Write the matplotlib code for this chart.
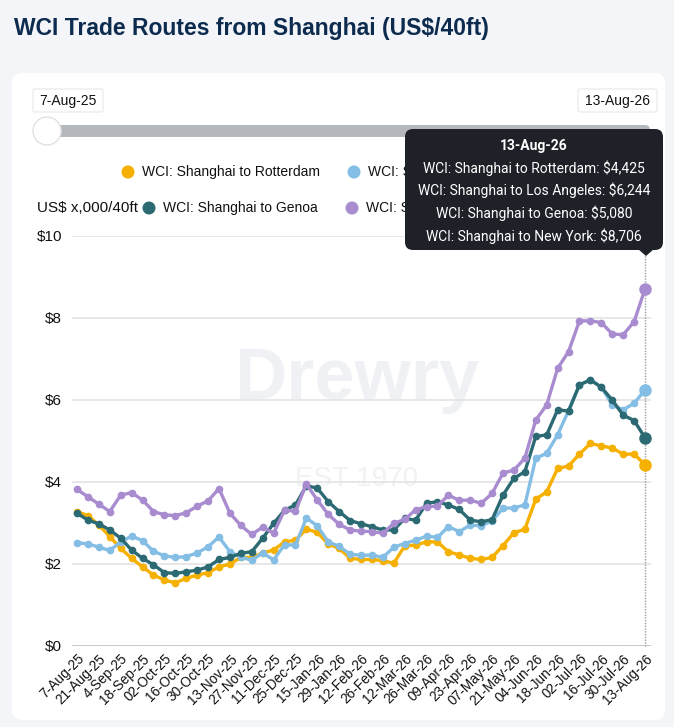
import matplotlib
matplotlib.use('Agg')
import matplotlib.pyplot as plt
from matplotlib.patches import FancyBboxPatch, Circle, Polygon
import numpy as np

dates = ["7-Aug-25", "14-Aug-25", "21-Aug-25", "28-Aug-25", "4-Sep-25", "11-Sep-25",
         "18-Sep-25", "25-Sep-25", "02-Oct-25", "09-Oct-25", "16-Oct-25", "23-Oct-25",
         "30-Oct-25", "06-Nov-25", "13-Nov-25", "20-Nov-25", "27-Nov-25", "04-Dec-25",
         "11-Dec-25", "18-Dec-25", "25-Dec-25", "08-Jan-26", "15-Jan-26", "22-Jan-26",
         "29-Jan-26", "05-Feb-26", "12-Feb-26", "19-Feb-26", "26-Feb-26", "05-Mar-26",
         "12-Mar-26", "19-Mar-26", "26-Mar-26", "02-Apr-26", "09-Apr-26", "16-Apr-26",
         "23-Apr-26", "30-Apr-26", "07-May-26", "14-May-26", "21-May-26", "28-May-26",
         "04-Jun-26", "11-Jun-26", "18-Jun-26", "25-Jun-26", "02-Jul-26", "09-Jul-26",
         "16-Jul-26", "23-Jul-26", "30-Jul-26", "06-Aug-26", "13-Aug-26"]

rotterdam = [3.28, 3.18, 2.95, 2.67, 2.38, 2.14, 1.93, 1.73, 1.61, 1.54, 1.65, 1.73,
             1.79, 1.93, 2.00, 2.16, 2.16, 2.27, 2.34, 2.54, 2.58, 2.85, 2.77, 2.49,
             2.38, 2.14, 2.11, 2.11, 2.08, 2.02, 2.44, 2.46, 2.54, 2.54, 2.30, 2.22,
             2.14, 2.11, 2.16, 2.45, 2.76, 2.85, 3.58, 3.76, 4.33, 4.39, 4.68, 4.94,
             4.88, 4.83, 4.68, 4.68, 4.425]
los_angeles = [2.52, 2.49, 2.41, 2.33, 2.54, 2.68, 2.57, 2.31, 2.20, 2.16, 2.18, 2.27,
               2.42, 2.66, 2.30, 2.17, 2.09, 2.27, 2.10, 2.47, 2.46, 3.12, 2.93, 2.54,
               2.43, 2.24, 2.21, 2.22, 2.16, 2.41, 2.50, 2.58, 2.68, 2.65, 2.91, 2.79,
               2.95, 2.93, 3.05, 3.36, 3.37, 3.44, 4.58, 4.70, 5.15, 5.74, 6.37, 6.49,
               6.32, 5.88, 5.76, 5.92, 6.244]
genoa = [3.24, 3.07, 2.98, 2.83, 2.63, 2.34, 2.14, 1.98, 1.79, 1.77, 1.81, 1.85,
         1.93, 2.11, 2.16, 2.26, 2.30, 2.63, 2.99, 3.31, 3.44, 3.91, 3.85, 3.52,
         3.28, 3.06, 2.98, 2.91, 2.83, 2.83, 3.11, 3.07, 3.48, 3.52, 3.44, 3.33,
         3.07, 3.03, 3.08, 3.68, 4.09, 4.25, 5.11, 5.15, 5.76, 5.73, 6.37, 6.49,
         6.31, 6.00, 5.63, 5.50, 5.080]
new_york = [3.82, 3.64, 3.46, 3.28, 3.68, 3.74, 3.56, 3.28, 3.20, 3.18, 3.25, 3.41,
            3.54, 3.84, 3.24, 2.94, 2.72, 2.90, 2.75, 3.31, 3.29, 3.95, 3.56, 3.21,
            2.97, 2.83, 2.80, 2.79, 2.75, 2.99, 3.09, 3.32, 3.40, 3.41, 3.68, 3.55,
            3.56, 3.48, 3.72, 4.22, 4.29, 4.58, 5.51, 5.88, 6.77, 7.18, 7.93, 7.93,
            7.89, 7.61, 7.59, 7.91, 8.706]

series_names = ["WCI: Shanghai to Rotterdam", "WCI: Shanghai to Los Angeles",
                "WCI: Shanghai to Genoa", "WCI: Shanghai to New York"]
series_values = [rotterdam, los_angeles, genoa, new_york]
colors = ["#F5B000", "#84BEE5", "#2C6A73", "#A98BCF"]
y_ticks = [0, 2, 4, 6, 8, 10]
y_labels = ["$0", "$2", "$4", "$6", "$8", "$10"]

W, H = 674, 727
fig = plt.figure(figsize=(W / 100, H / 100), dpi=100)
fig.patch.set_facecolor('#f3f5f9')

# background overlay (pixel coordinates)
bg = fig.add_axes([0, 0, 1, 1], zorder=0)
bg.set_xlim(0, W); bg.set_ylim(H, 0); bg.axis('off')

bg.text(14, 28, "WCI Trade Routes from Shanghai (US$/40ft)", fontsize=16.5, fontweight='bold',
        color='#0c2b4e', va='center', ha='left', family='Liberation Sans')

bg.add_patch(FancyBboxPatch((12, 73), 653, 647, boxstyle='round,pad=0,rounding_size=10',
                            facecolor='white', edgecolor='none'))

# slider
for (x0, w, lab) in [(33, 70, dates[0]), (578, 79, dates[-1])]:
    bg.add_patch(FancyBboxPatch((x0, 89), w, 23, boxstyle='round,pad=0,rounding_size=2',
                                facecolor='white', edgecolor='#e8e8e8', lw=0.8))
    bg.text(x0 + w / 2, 100.5, lab, fontsize=10, ha='center', va='center', color='#111',
            family='Liberation Sans')
bg.add_patch(FancyBboxPatch((45, 125), 605, 12, boxstyle='round,pad=0,rounding_size=5',
                            facecolor='#b4b8bd', edgecolor='none'))
bg.add_patch(Circle((47, 131), 14, facecolor='white', edgecolor='#e2e2e2', lw=1))

# legend
legend_pos = [(128, 172), (354, 172), (149, 208), (352, 208)]
for (lx, ly), name, c in zip(legend_pos, series_names, colors):
    bg.add_patch(Circle((lx, ly), 6.5, facecolor=c, edgecolor='none'))
    bg.text(lx + 14, ly, name, fontsize=10, ha='left', va='center', color='#111',
            family='Liberation Sans')
bg.text(37, 208, "US$ x,000/40ft", fontsize=11, ha='left', va='center', color='#111',
        family='Liberation Sans')

# watermark
bg.text(357, 380, "Drewry", fontsize=52, fontweight='bold', color='#eff1f4', ha='center',
        va='center', family='Liberation Sans')
bg.text(357, 479, "EST 1970", fontsize=20, color='#f1f2f4', ha='center', va='center',
        family='Liberation Sans')

# chart axes
ax = fig.add_axes([72 / W, (H - 646) / H, 579 / W, 410 / H], zorder=5)
ax.set_facecolor('none')
x = np.arange(len(dates))
for vals, c in zip(series_values, colors):
    ax.plot(x, vals, color=c, lw=2.4, marker='o', ms=4.5, zorder=3, clip_on=False)
    ax.plot(x[-1], vals[-1], marker='o', ms=8, color=c, zorder=4, clip_on=False)
ax.plot([x[-1], x[-1]], [0, 9.55], color='#9a9a9a', ls=(0, (1, 1)), lw=1, zorder=2,
        clip_on=False)

ax.set_xlim(-0.458, 52.55)
ax.set_ylim(0, 10)
ax.set_yticks(y_ticks)
ax.set_yticklabels(y_labels, fontsize=11, family='Liberation Sans', color='#111')
ax.set_xticks(x[::2])
ax.set_xticklabels(dates[::2], rotation=45, ha='right', rotation_mode='anchor',
                   fontsize=9.8, family='Liberation Sans', color='#111')
ax.tick_params(axis='both', length=0)
ax.tick_params(axis='y', pad=7)
ax.tick_params(axis='x', pad=4)
for s in ax.spines.values():
    s.set_visible(False)
ax.yaxis.grid(True, color='#e3e3e3', lw=1.2)
ax.axhline(0, color='#c8c8c8', lw=1.4, zorder=1)
ax.set_axisbelow(True)

# tooltip overlay
fg = fig.add_axes([0, 0, 1, 1], zorder=10)
fg.set_xlim(0, W); fg.set_ylim(H, 0); fg.axis('off'); fg.patch.set_alpha(0)
fg.add_patch(FancyBboxPatch((405, 129), 258, 121, boxstyle='round,pad=0,rounding_size=8',
                            facecolor='#1e2128', edgecolor='none'))
fg.add_patch(Polygon([(638, 249), (654, 249), (646, 256)], closed=True,
                     facecolor='#1e2128', edgecolor='none'))
fg.text(534, 146, dates[-1], fontsize=10, fontweight='bold', color='white', ha='center',
        va='center', family='Roboto')
for k, (name, vals) in enumerate(zip(series_names, series_values)):
    fg.text(534, 168 + k * 22.7, f"{name}: ${vals[-1] * 1000:,.0f}", fontsize=10,
            color='white', ha='center', va='center', family='Roboto')

fig.savefig('out.png', dpi=100, facecolor=fig.get_facecolor())
